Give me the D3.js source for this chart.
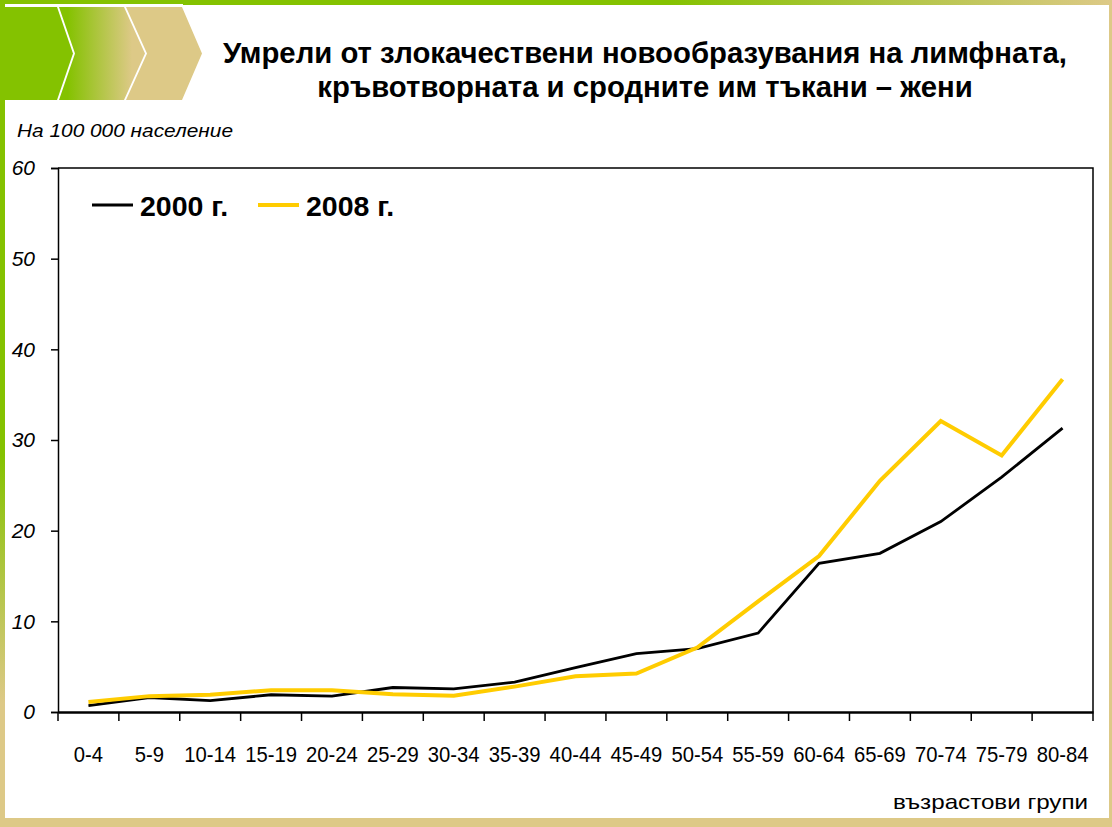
<!DOCTYPE html>
<html>
<head>
<meta charset="utf-8">
<title>Умрели от злокачествени новообразувания</title>
<style>
  body { margin: 0; background: #fff; }
  text { font-family: "Liberation Sans", Arial, sans-serif; }
</style>
</head>
<body>
<script src="https://cdn.jsdelivr.net/npm/d3@7"></script>
<script>

// data
var ageGroups = ["0-4", "5-9", "10-14", "15-19", "20-24", "25-29", "30-34", "35-39", "40-44",
                 "45-49", "50-54", "55-59", "60-64", "65-69", "70-74", "75-79", "80-84"];
var values2000 = [0.7, 1.6, 1.25, 1.9, 1.75, 2.7, 2.55, 3.3, 4.9, 6.45, 7.0, 8.7, 16.4, 17.5, 21.0, 25.9, 31.3];
var values2008 = [1.1, 1.75, 1.9, 2.4, 2.4, 1.95, 1.8, 2.8, 3.95, 4.25, 7.1, 12.2, 17.2, 25.5, 32.1, 28.3, 36.7];
var yTicks = [0, 10, 20, 30, 40, 50, 60];
var seriesNames = ["2000 г.", "2008 г."];

var width = 1112,
    height = 827,
    green = "#84c200",
    tan = "#ddc987",
    black = "#000000",
    yellow = "#ffcc00";

var margin = {left: 58, right: 1093, top: 168, bottom: 712};

var svg = d3.select("body").append("svg")
    .attr("width", width)
    .attr("height", height);

var defs = svg.append("defs");
var gTop = defs.append("linearGradient").attr("id", "gTop");
gTop.append("stop").attr("offset", "0%").attr("stop-color", green);
gTop.append("stop").attr("offset", "60%").attr("stop-color", green);
gTop.append("stop").attr("offset", "100%").attr("stop-color", tan);
var gLeft = defs.append("linearGradient").attr("id", "gLeft")
    .attr("x1", 0).attr("y1", 0).attr("x2", 0).attr("y2", 1);
gLeft.append("stop").attr("offset", "0%").attr("stop-color", green);
gLeft.append("stop").attr("offset", "55%").attr("stop-color", green);
gLeft.append("stop").attr("offset", "85%").attr("stop-color", tan);
var gChev = defs.append("linearGradient").attr("id", "gChev");
gChev.append("stop").attr("offset", "10%").attr("stop-color", green);
gChev.append("stop").attr("offset", "85%").attr("stop-color", tan);

// frame
svg.append("rect").attr("x", 0).attr("y", 0).attr("width", width).attr("height", 5).attr("fill", "url(#gTop)");
svg.append("rect").attr("x", 0).attr("y", 0).attr("width", 5).attr("height", height).attr("fill", "url(#gLeft)");
svg.append("rect").attr("x", 0).attr("y", 818).attr("width", width).attr("height", 9).attr("fill", tan);
svg.append("rect").attr("x", 1109).attr("y", 0).attr("width", 3).attr("height", height).attr("fill", tan);

// chevrons
var chevY0 = 7, chevY1 = 100, chevYm = 53.5;
function chevron(xl, notch, xr, tip) {
  return "M" + xl + "," + chevY0 + "L" + xr + "," + chevY0 + "L" + tip + "," + chevYm +
         "L" + xr + "," + chevY1 + "L" + xl + "," + chevY1 + "L" + notch + "," + chevYm + "Z";
}
svg.append("path").attr("d", chevron(5, 5, 57, 73)).attr("fill", green);
svg.append("path").attr("d", chevron(59, 75, 124, 145)).attr("fill", "url(#gChev)");
svg.append("path").attr("d", chevron(126, 147, 182, 202)).attr("fill", tan);
svg.append("path").attr("d", "M5,5L183,5").attr("stroke", "#fff").attr("stroke-width", 2);

// title
svg.append("text").attr("x", 645).attr("y", 63).attr("text-anchor", "middle")
    .style("font-size", "29.3px").style("font-weight", "bold")
    .text("Умрели от злокачествени новообразувания на лимфната,");
svg.append("text").attr("x", 645).attr("y", 97).attr("text-anchor", "middle")
    .style("font-size", "29.3px").style("font-weight", "bold")
    .text("кръвотворната и сродните им тъкани – жени");

svg.append("text").attr("x", 17).attr("y", 137)
    .style("font-size", "18px").style("font-style", "italic")
    .attr("textLength", 216).attr("lengthAdjust", "spacingAndGlyphs")
    .text("На 100 000 население");

// scales
var x = d3.scaleBand().domain(ageGroups).range([margin.left, margin.right]);
var y = d3.scaleLinear().domain([0, 60]).range([margin.bottom, margin.top]);

// plot frame (top and right)
svg.append("path")
    .attr("d", "M" + margin.left + "," + margin.top + "H" + margin.right + "V" + margin.bottom)
    .attr("fill", "none").attr("stroke", black).attr("stroke-width", 1.5);

// y axis
var yAxis = svg.append("g")
    .attr("transform", "translate(" + margin.left + ",0)")
    .call(d3.axisLeft(y).tickValues(yTicks).tickSize(7).tickPadding(16));
yAxis.select(".domain").attr("stroke-width", 1.5);
yAxis.selectAll(".tick line").attr("stroke-width", 1.5);
yAxis.selectAll("text")
    .style("font-size", "21px").style("font-style", "italic").attr("fill", black);

// x axis, ticks on band boundaries
var xAxis = svg.append("g")
    .attr("transform", "translate(0," + margin.bottom + ")")
    .call(d3.axisBottom(x).tickSize(0).tickPadding(34));
xAxis.select(".domain").attr("stroke-width", 2.5);
xAxis.selectAll("text").style("font-size", "22px").attr("fill", black)
    .attr("lengthAdjust", "spacingAndGlyphs")
    .attr("textLength", function() { return this.getComputedTextLength() * 0.92; });
xAxis.selectAll(".bound")
    .data(ageGroups.concat([null]))
    .enter().append("line")
    .attr("x1", function(d, i) { return margin.left + i * x.bandwidth(); })
    .attr("x2", function(d, i) { return margin.left + i * x.bandwidth(); })
    .attr("y1", 0).attr("y2", 9)
    .attr("stroke", black).attr("stroke-width", 1.5);

svg.append("text").attr("x", 1088).attr("y", 809).attr("text-anchor", "end")
    .style("font-size", "21px")
    .attr("textLength", 195).attr("lengthAdjust", "spacingAndGlyphs")
    .text("възрастови групи");

// lines
var line = d3.line()
    .x(function(d, i) { return x(ageGroups[i]) + x.bandwidth() / 2; })
    .y(function(d) { return y(d); });

svg.append("path").datum(values2000)
    .attr("d", line).attr("fill", "none")
    .attr("stroke", black).attr("stroke-width", 2.8);
svg.append("path").datum(values2008)
    .attr("d", line).attr("fill", "none")
    .attr("stroke", yellow).attr("stroke-width", 4);

// legend
var legend = [{name: seriesNames[0], color: black, w: 2.8, x: 92},
              {name: seriesNames[1], color: yellow, w: 4, x: 258}];
var lg = svg.selectAll(".legend").data(legend).enter().append("g");
lg.append("line")
    .attr("x1", function(d) { return d.x; }).attr("x2", function(d) { return d.x + 41; })
    .attr("y1", 205).attr("y2", 205)
    .attr("stroke", function(d) { return d.color; })
    .attr("stroke-width", function(d) { return d.w; });
lg.append("text")
    .attr("x", function(d) { return d.x + 48; }).attr("y", 216)
    .style("font-size", "28.5px").style("font-weight", "bold")
    .text(function(d) { return d.name; });

</script>
</body>
</html>
